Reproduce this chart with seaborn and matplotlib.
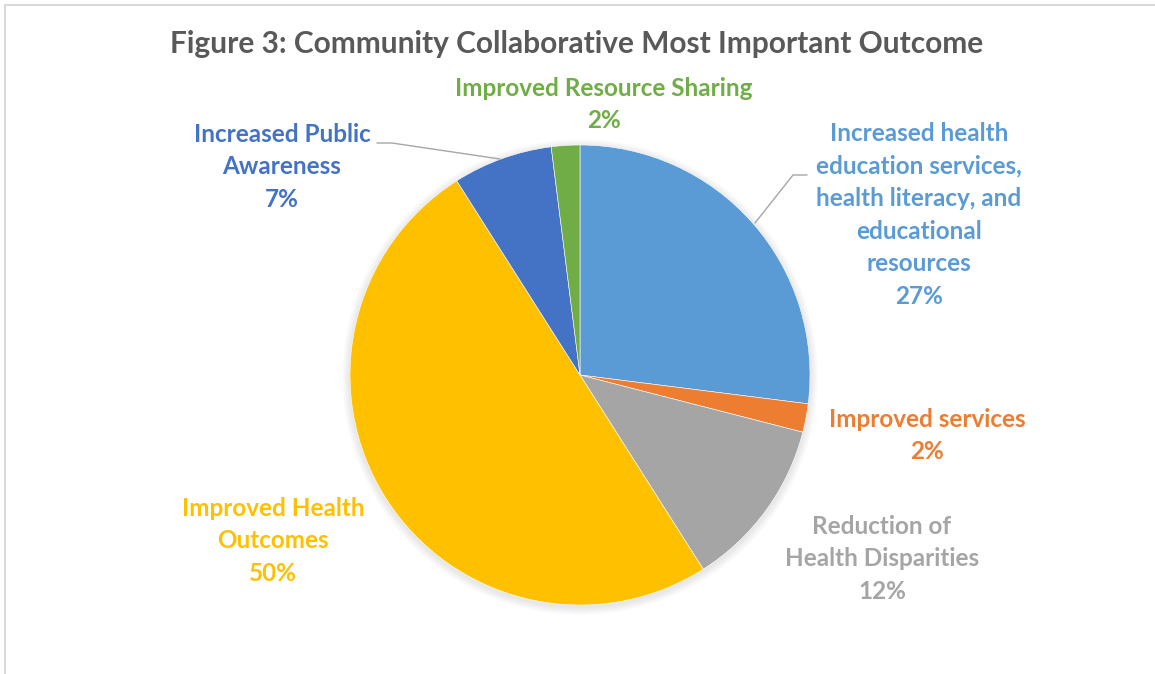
import matplotlib
matplotlib.use("Agg")
import matplotlib.pyplot as plt
from matplotlib.patches import Circle, Rectangle
import seaborn as sns

# Share of collaboratives naming each outcome as most important (%)
categories = [
    "Increased health\neducation services,\nhealth literacy, and\neducational\nresources",
    "Improved services",
    "Reduction of\nHealth Disparities",
    "Improved Health\nOutcomes",
    "Increased Public\nAwareness",
    "Improved Resource Sharing",
]
shares = [27, 2, 12, 50, 7, 2]
colors = ["#5B9BD5", "#ED7D31", "#A5A5A5", "#FFC000", "#4472C4", "#70AD47"]
title = "Figure 3: Community Collaborative Most Important Outcome"

sns.set_theme(style="white")
plt.rcParams["font.family"] = ["Lato", "DejaVu Sans"]

W, H = 1155, 674
fig = plt.figure(figsize=(W / 100, H / 100), dpi=100)
ax = fig.add_axes([0, 0, 1, 1])

cx, cy, r = 580, H - 375, 230

# soft drop shadow under the pie
for i in range(8):
    ax.add_patch(Circle((cx, cy - 2), r + 1 + i * 1.0, facecolor="black",
                        edgecolor="none", alpha=0.012, zorder=0))

wedges, _ = ax.pie(
    shares,
    colors=sns.color_palette(colors),
    startangle=90,
    counterclock=False,
    center=(cx, cy),
    radius=r,
    wedgeprops=dict(linewidth=0.4, edgecolor="white"),
    frame=True,
)
for w in wedges:
    w.set_zorder(2)

total = sum(shares)
pcts = [f"{round(100 * v / total)}%" for v in shares]

# label anchor points (x, top y in image pixels)
label_pos = [
    (919, 117),
    (927, 403),
    (882, 510),
    (273, 492),
    (282, 118),
    (604, 72),
]
line_h = 32.6
fs = 17.5
for (x, ytop), cat, pct, col in zip(label_pos, categories, pcts, colors):
    lines = cat.split("\n") + [pct]
    for k, s in enumerate(lines):
        ax.text(x, H - (ytop + line_h * k + line_h / 2), s, ha="center",
                va="center", fontsize=fs, fontweight="bold", color=col,
                zorder=5)

# leader lines
ax.plot([377, 392, 500], [H - 143, H - 143, H - 159], color="#A6A6A6",
        lw=1.0, zorder=3)
ax.plot([755, 793, 807], [H - 223, H - 175, H - 175], color="#A6A6A6",
        lw=1.0, zorder=3)

ax.text(W / 2 - 1, H - 44, title, ha="center", va="center", fontsize=21.5,
        fontweight="bold", color="#595959")

# chart frame
ax.add_patch(Rectangle((4.5, -20), W + 40, H - 4.5 + 20, facecolor="none",
                       edgecolor="#D9D9D9", lw=1.5, zorder=6))

ax.set_xlim(0, W)
ax.set_ylim(0, H)
ax.set_aspect("equal")
ax.axis("off")

fig.savefig("out.png", dpi=100, facecolor="white")
